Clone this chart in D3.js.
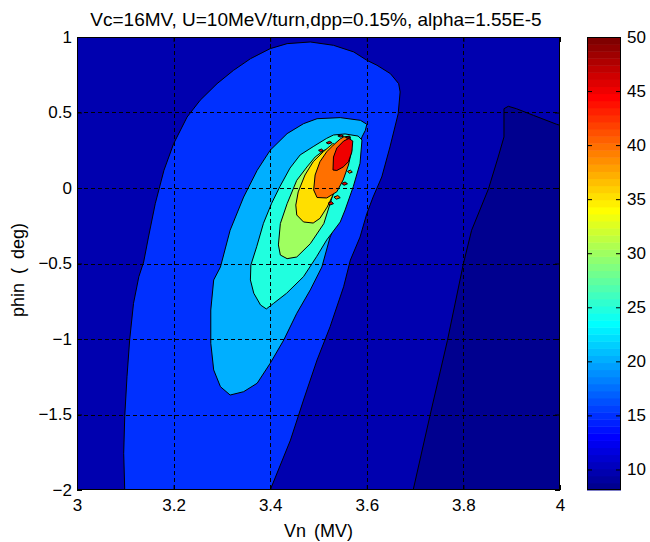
<!DOCTYPE html>
<html>
<head>
<meta charset="utf-8">
<script src="https://cdn.jsdelivr.net/npm/d3@7"></script>
<style>
  body { margin: 0; background: #fff; }
  text { font-family: "Liberation Sans", Arial, sans-serif; fill: #000; }
</style>
</head>
<body>
<div id="cont"></div>
<script>
// Contour plot of Vn vs phin

var titleText = "Vc=16MV, U=10MeV/turn,dpp=0.15%, alpha=1.55E-5";
var xLabel = "Vn (MV)";
var yLabel = "phin ( deg)";

var xTicks = [3, 3.2, 3.4, 3.6, 3.8, 4];
var yTicks = [-2, -1.5, -1, -0.5, 0, 0.5, 1];
var cTicks = [10, 15, 20, 25, 30, 35, 40, 45, 50];
var cMin = 8.1, cMax = 50;

// region below level 10 (bottom right corner)
var below10 = [[3.696,-2],[3.731,-1.505],[3.767,-1.009],[3.800,-0.501],[3.817,-0.280],
  [3.852,-0.005],[3.872,0.205],[3.884,0.338],[3.884,0.525],[3.893,0.541],[3.910,0.525],
  [3.945,0.481],[3.993,0.422],[4.0,0.415],[4.0,-2]];

// regions above each level (value >= level)
var above15 = [[3.0988,-2],[3.0967,-1.757],[3.0988,-1.515],[3.1035,-1.250],[3.109,-1.007],
  [3.117,-0.764],[3.128,-0.588],[3.138,-0.490],[3.148,-0.325],[3.162,-0.104],[3.180,0.117],
  [3.200,0.293],[3.228,0.470],[3.255,0.581],[3.290,0.691],[3.324,0.779],[3.359,0.856],
  [3.400,0.923],[3.435,0.956],[3.483,0.967],[3.531,0.945],[3.573,0.901],[3.600,0.846],
  [3.621,0.813],[3.649,0.757],[3.666,0.691],[3.669,0.636],[3.665,0.492],[3.648,0.272],
  [3.631,0.073],[3.613,-0.060],[3.600,-0.170],[3.586,-0.325],[3.566,-0.477],[3.552,-0.654],
  [3.524,-0.919],[3.497,-1.139],[3.469,-1.404],[3.442,-1.669],[3.400,-2]];

var above20 = [[3.497,0.459],[3.545,0.466],[3.587,0.448],[3.600,0.422],[3.597,0.382],
  [3.590,0.338],[3.583,0.272],[3.573,0.117],[3.559,-0.038],[3.545,-0.170],[3.524,-0.325],
  [3.507,-0.523],[3.483,-0.675],[3.455,-0.830],[3.428,-1.007],[3.400,-1.161],[3.373,-1.293],
  [3.345,-1.349],[3.317,-1.371],[3.297,-1.316],[3.283,-1.205],[3.277,-1.028],[3.277,-0.808],
  [3.283,-0.609],[3.297,-0.523],[3.317,-0.280],[3.345,-0.060],[3.373,0.117],[3.400,0.250],
  [3.435,0.360],[3.469,0.426]];

var above25 = [[3.531,0.351],[3.555,0.358],[3.582,0.344],[3.590,0.318],[3.586,0.164],
  [3.572,0.009],[3.555,-0.146],[3.545,-0.225],[3.517,-0.344],[3.496,-0.455],[3.469,-0.587],
  [3.434,-0.697],[3.407,-0.764],[3.392,-0.801],[3.380,-0.775],[3.366,-0.697],[3.359,-0.609],
  [3.360,-0.510],[3.372,-0.389],[3.386,-0.234],[3.403,-0.101],[3.420,0.009],[3.441,0.132],
  [3.462,0.219],[3.489,0.274],[3.517,0.329]];

var above30 = [[3.524,0.265],[3.536,0.252],[3.540,0.152],[3.536,0.020],[3.524,-0.104],
  [3.511,-0.236],[3.483,-0.369],[3.455,-0.457],[3.435,-0.468],[3.421,-0.444],[3.417,-0.377],
  [3.421,-0.236],[3.435,-0.104],[3.455,0.051],[3.476,0.139],[3.493,0.205],[3.511,0.249]];

var above35 = [[3.530,0.295],[3.540,0.272],[3.545,0.185],[3.536,0.020],[3.530,-0.046],
  [3.518,-0.126],[3.503,-0.201],[3.489,-0.232],[3.469,-0.225],[3.455,-0.179],[3.453,-0.113],
  [3.458,-0.026],[3.472,0.086],[3.489,0.174],[3.510,0.240]];

var above40 = [[3.552,0.338],[3.565,0.344],[3.569,0.252],[3.562,0.152],[3.551,0.053],
  [3.538,-0.025],[3.517,-0.066],[3.497,-0.063],[3.490,-0.013],[3.493,0.086],[3.503,0.174],
  [3.517,0.240],[3.531,0.285],[3.545,0.325]];

var above45 = [[3.530,0.119],[3.531,0.205],[3.538,0.265],[3.552,0.311],[3.563,0.328],
  [3.571,0.311],[3.569,0.238],[3.562,0.174],[3.551,0.139],[3.538,0.116]];

// small islands along the ridge and the steep side of the peak: [level, polygon]
var islandLevels = [45, 45, 45, 50, 40, 45, 40, 45];
var islandShapes = [
  [[3.500,0.250],[3.506,0.258],[3.510,0.248],[3.504,0.240]],
  [[3.516,0.300],[3.523,0.309],[3.528,0.300],[3.520,0.292]],
  [[3.540,0.345],[3.548,0.352],[3.552,0.343],[3.545,0.337]],
  [[3.556,0.335],[3.562,0.342],[3.566,0.334],[3.560,0.328]],
  [[3.560,0.110],[3.566,0.118],[3.570,0.106],[3.564,0.098]],
  [[3.548,0.030],[3.555,0.040],[3.560,0.028],[3.553,0.018]],
  [[3.532,-0.060],[3.540,-0.050],[3.545,-0.064],[3.537,-0.074]],
  [[3.520,-0.100],[3.527,-0.090],[3.531,-0.104],[3.524,-0.112]]
];

var regions = [
  {level: cMin, pts: below10},
  {level: 15, pts: above15},
  {level: 20, pts: above20},
  {level: 25, pts: above25},
  {level: 30, pts: above30},
  {level: 35, pts: above35},
  {level: 40, pts: above40},
  {level: 45, pts: above45}
];
islandShapes.forEach(function(p, i) { regions.push({level: islandLevels[i], pts: p}); });

// MATLAB jet(64)
function jet64(i) { // i in 1..64
  var n = 16;
  function u(k) { if (k < 1 || k > 47) return 0; if (k <= 16) return k / n; if (k <= 31) return 1; return (48 - k) / n; }
  return d3.rgb(Math.round(255 * u(i - 24)), Math.round(255 * u(i - 8)), Math.round(255 * u(i + 8)));
}
function colorOf(v) {
  var idx = Math.floor((v - cMin) / (cMax - cMin) * 64) + 1;
  idx = Math.max(1, Math.min(64, idx));
  return jet64(idx);
}

var W = 650, H = 542;
var L = 77, R = 560, T = 37, B = 490;
var cbL = 587, cbR = 621;

var svg = d3.select("#cont").append("svg")
    .attr("width", W)
    .attr("height", H);

var x = d3.scaleLinear().domain([3, 4]).range([L, R]);
var y = d3.scaleLinear().domain([-2, 1]).range([B, T]);
var cy = d3.scaleLinear().domain([cMin, cMax]).range([B, T]);

svg.append("clipPath").attr("id", "plotclip")
  .append("rect").attr("x", L).attr("y", T).attr("width", R - L).attr("height", B - T);

var plot = svg.append("g").attr("clip-path", "url(#plotclip)");

// base fill: region between 10 and 15
plot.append("rect")
    .attr("x", L).attr("y", T).attr("width", R - L).attr("height", B - T)
    .attr("fill", colorOf(10));

var line = d3.line()
    .x(function(d) { return x(d[0]); })
    .y(function(d) { return y(d[1]); })
    .curve(d3.curveLinearClosed);

plot.selectAll("path.contour")
  .data(regions)
  .enter().append("path")
    .attr("class", "contour")
    .attr("d", function(d) { return line(d.pts); })
    .attr("fill", function(d) { return colorOf(d.level); })
    .attr("stroke", "#000")
    .attr("stroke-width", 1)
    .attr("stroke-linejoin", "round");

// grid
var grid = svg.append("g").attr("stroke", "#000").attr("stroke-width", 1).attr("stroke-dasharray", "4,3");
xTicks.slice(1, -1).forEach(function(t) {
  grid.append("line").attr("x1", Math.round(x(t)) + 0.5).attr("x2", Math.round(x(t)) + 0.5).attr("y1", T).attr("y2", B);
});
yTicks.slice(1, -1).forEach(function(t) {
  grid.append("line").attr("y1", Math.round(y(t)) + 0.5).attr("y2", Math.round(y(t)) + 0.5).attr("x1", L).attr("x2", R);
});

// axes
var fmt = d3.format("~g");
function styleAxis(g) {
  g.select(".domain").remove();
  g.selectAll(".tick line").attr("stroke", "#000");
  g.selectAll("text").style("font-size", "17px").attr("fill", "#000");
}
svg.append("g").attr("transform", "translate(0," + B + ")")
  .call(d3.axisBottom(x).tickValues(xTicks).tickFormat(fmt).tickSize(-5).tickPadding(9))
  .call(styleAxis);
svg.append("g").attr("transform", "translate(0," + T + ")")
  .call(d3.axisTop(x).tickValues(xTicks).tickFormat("").tickSize(-5))
  .call(styleAxis);
svg.append("g").attr("transform", "translate(" + L + ",0)")
  .call(d3.axisLeft(y).tickValues(yTicks).tickFormat(fmt).tickSize(-5).tickPadding(5))
  .call(styleAxis);
svg.append("g").attr("transform", "translate(" + R + ",0)")
  .call(d3.axisRight(y).tickValues(yTicks).tickFormat("").tickSize(-5))
  .call(styleAxis);

svg.append("rect")
    .attr("x", L + 0.5).attr("y", T + 0.5).attr("width", R - L - 1).attr("height", B - T - 1)
    .attr("fill", "none").attr("stroke", "#000").attr("stroke-width", 1);

// colorbar
var bands = d3.range(1, 65);
var bandH = (cMax - cMin) / 64;
svg.append("g").selectAll("rect")
  .data(bands)
  .enter().append("rect")
    .attr("x", cbL)
    .attr("width", cbR - cbL)
    .attr("y", function(i) { return cy(cMin + i * bandH); })
    .attr("height", function(i) { return cy(cMin + (i - 1) * bandH) - cy(cMin + i * bandH) + 0.5; })
    .attr("fill", function(i) { return jet64(i); });

svg.append("g").attr("transform", "translate(" + cbR + ",0)")
  .call(d3.axisRight(cy).tickValues(cTicks).tickFormat(fmt).tickSize(-5).tickPadding(6))
  .call(styleAxis);
svg.append("g").attr("transform", "translate(" + cbL + ",0)")
  .call(d3.axisLeft(cy).tickValues(cTicks).tickFormat("").tickSize(-5))
  .call(styleAxis);
svg.append("rect")
    .attr("x", cbL + 0.5).attr("y", T + 0.5).attr("width", cbR - cbL - 1).attr("height", B - T - 1)
    .attr("fill", "none").attr("stroke", "#000").attr("stroke-width", 1);

// labels
svg.append("text")
    .attr("x", 316).attr("y", 26)
    .attr("text-anchor", "middle")
    .style("font-size", "19px")
    .text(titleText);
svg.append("text")
    .attr("x", (L + R) / 2).attr("y", 537)
    .attr("text-anchor", "middle")
    .style("font-size", "18px")
    .style("word-spacing", "3px")
    .text(xLabel);
svg.append("text")
    .attr("transform", "translate(24,270) rotate(-90)")
    .attr("text-anchor", "middle")
    .style("font-size", "18px")
    .style("word-spacing", "4px")
    .text(yLabel);
</script>
</body>
</html>
